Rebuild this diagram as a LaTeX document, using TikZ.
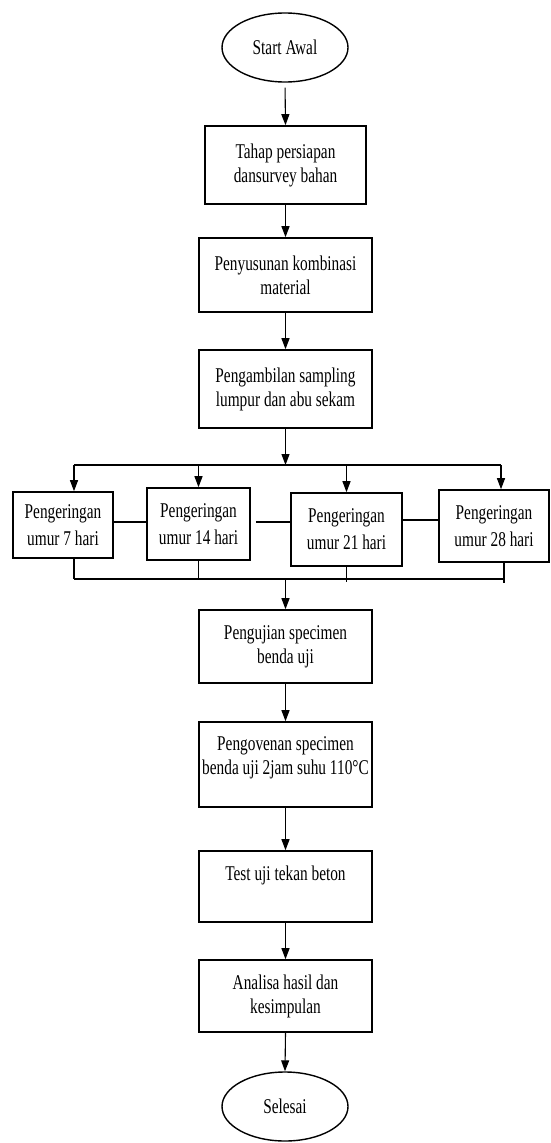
\documentclass[tikz,border=0pt]{standalone}
\usepackage{fontspec}
\setmainfont[FakeStretch=0.73]{Liberation Serif}
\usetikzlibrary{arrows.meta,shapes.geometric,calc}
\begin{document}
\begin{tikzpicture}[x=1pt,y=-1pt,
  every node/.style={font=\fontsize{21pt}{24pt}\selectfont, inner sep=0pt, align=center},
  mainbox/.style={draw, line width=1.6pt, minimum width=173pt, minimum height=74pt},
  rowbox/.style={draw, line width=1.6pt, font=\fontsize{21pt}{27pt}\selectfont},
  term/.style={draw, ellipse, line width=1.4pt, minimum width=126pt, minimum height=69pt},
  conn/.style={line width=1.1pt},
  arr/.style={conn, -{Triangle[length=11pt,width=8pt]}},
]
\useasboundingbox (0,0) rectangle (550,1143);

% main column
\node[term] (start) at (285,47.5) {Start Awal};
\node[mainbox, minimum width=161pt, minimum height=78pt] (b1) at (285.5,165) {Tahap persiapan\\dansurvey bahan};
\node[mainbox, minimum height=74pt] (b2) at (285.5,275) {Penyusunan kombinasi\\material};
\node[mainbox, minimum height=78pt] (b3) at (285.5,389) {Pengambilan sampling\\lumpur dan abu sekam};

% row of drying boxes
\node[rowbox, minimum width=100pt, minimum height=66pt] (r7) at (63,525) {Pengeringan\\umur 7 hari};
\node[rowbox, minimum width=103pt, minimum height=72pt] (r14) at (198.5,524) {Pengeringan\\umur 14 hari};
\node[rowbox, minimum width=111pt, minimum height=73pt] (r21) at (346.5,529.5) {Pengeringan\\umur 21 hari};
\node[rowbox, minimum width=110pt, minimum height=72pt] (r28) at (494,526) {Pengeringan\\umur 28 hari};

\node[mainbox, minimum height=73pt] (p1) at (285.5,646.5) {Pengujian specimen\\benda uji};
\node[mainbox, minimum height=85pt] (p2) at (285.5,764.5) {};
\node (p2t) at (285.5,757.5) {Pengovenan specimen\\benda uji 2jam suhu 110°C};
\node[mainbox, minimum height=71pt] (p3) at (285.5,886.5) {};
\node (p3t) at (285.5,875) {Test uji tekan beton};
\node[mainbox, minimum height=72pt] (p4) at (285.5,996) {Analisa hasil dan\\kesimpulan};
\node[term] (end) at (285,1106.5) {Selesai};

% bus coordinates
\coordinate (dL) at (74,465);
\coordinate (dR) at (501,465);
\coordinate (cL) at (74,579);
\coordinate (cR) at (504,579);

% main arrows
\draw[arr, shorten <=5pt] (start.south) -- (b1.north);
\draw[arr] (b1.south) -- (b2.north);
\draw[arr] (b2.south) -- (b3.north);
\draw[arr] (b3.south) -- (b3.south |- dL);

% distribution bus
\draw[conn] (dL) -- (dR);
\draw[arr] (dL) -- (dL |- r7.north);
\draw[arr] (r14.north |- dL) -- (r14.north);
\draw[arr] (r21.north |- dL) -- (r21.north);
\draw[arr] (dR) -- (dR |- r28.north);

% links between drying boxes
\draw[conn] ([yshift=3pt]r7.east) -- ([yshift=3pt]r7.east -| r14.west);
\draw[conn] ([xshift=5pt,yshift=2pt]r14.east) -- ([yshift=2pt]r14.east -| r21.west);
\draw[conn] ([yshift=9.5pt]r21.east) -- ([yshift=9.5pt]r21.east -| r28.west);

% collection bus
\draw[conn] (cL) -- (cR);
\draw[conn] (dL |- r7.south) -- (cL);
\draw[conn] (r14.south) -- (r14.south |- cL);
\draw[conn] (r21.south) -- ([yshift=-3pt]r21.south |- cL);
\draw[conn] (cR |- r28.south) -- ([yshift=-4pt]cR);

% lower column
\draw[arr] (p1.north |- cL) -- (p1.north);
\draw[arr] (p1.south) -- (p2.north);
\draw[arr] (p2.south) -- (p3.north);
\draw[arr] (p3.south) -- (p4.north);
\draw[arr] (p4.south) -- (end.north);
\end{tikzpicture}
\end{document}
